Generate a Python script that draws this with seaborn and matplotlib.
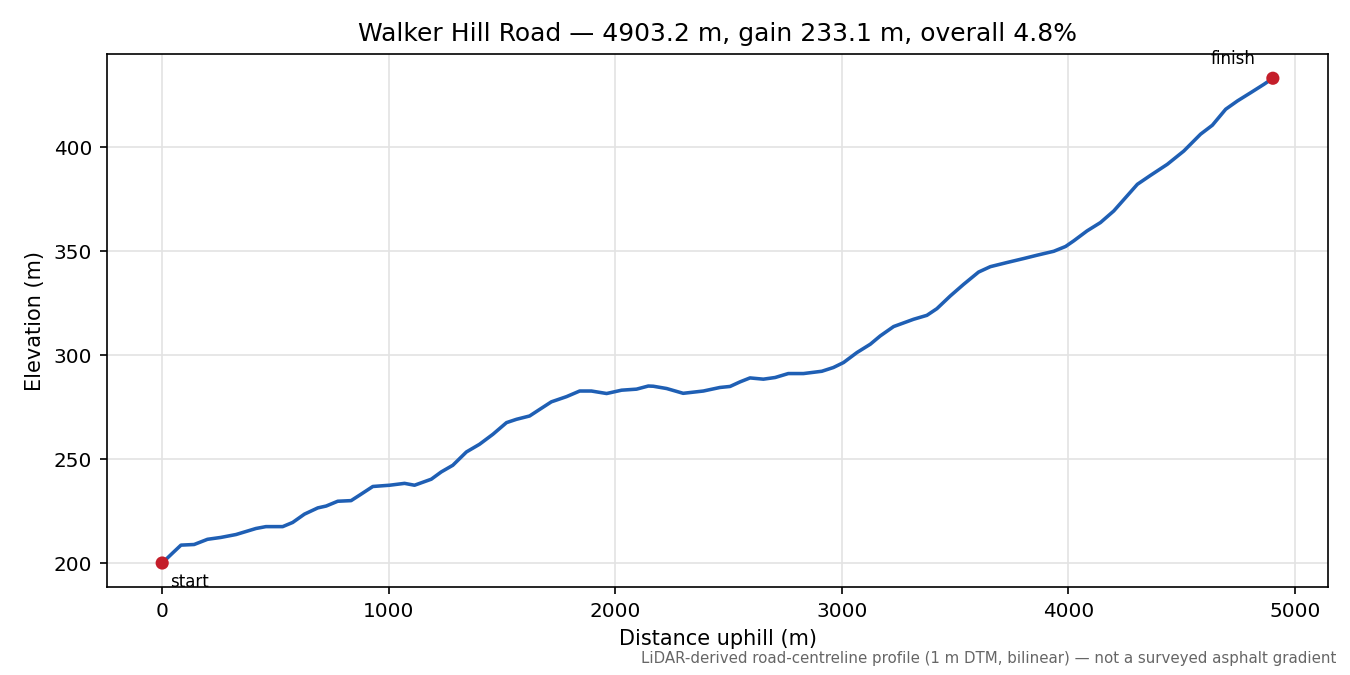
import matplotlib
matplotlib.use("Agg")
import matplotlib.pyplot as plt
import pandas as pd
import seaborn as sns

# profile
distance = [0, 46, 83, 141, 200, 259, 326, 414, 458, 532, 576, 628, 687, 724,
            775, 834, 871, 930, 1004, 1070, 1114, 1188, 1232, 1283, 1343, 1401,
            1460, 1520, 1564, 1622, 1667, 1718, 1785, 1843, 1895, 1962, 2028,
            2094, 2146, 2168, 2227, 2300, 2389, 2462, 2507, 2551, 2595, 2654,
            2706, 2764, 2831, 2912, 2963, 3008, 3067, 3126, 3170, 3229, 3317,
            3376, 3420, 3479, 3538, 3604, 3656, 3730, 3803, 3862, 3936, 3988,
            4024, 4083, 4142, 4201, 4253, 4305, 4363, 4437, 4510, 4584, 4636,
            4695, 4747, 4806, 4864, 4903.2]
elevation = [200.1, 204.9, 208.7, 209.0, 211.5, 212.4, 213.8, 216.7, 217.6,
             217.6, 219.6, 223.6, 226.6, 227.5, 229.8, 230.1, 232.7, 236.9,
             237.5, 238.4, 237.5, 240.4, 243.9, 247.1, 253.5, 257.2, 262.0,
             267.6, 269.2, 270.8, 274.0, 277.6, 280.1, 282.8, 282.8, 281.6,
             283.2, 283.7, 285.2, 285.1, 284.0, 281.7, 282.8, 284.5, 285.0,
             287.2, 289.1, 288.5, 289.3, 291.2, 291.2, 292.3, 294.1, 296.5,
             301.3, 305.3, 309.3, 313.8, 317.3, 319.2, 322.4, 328.5, 334.1,
             340.0, 342.6, 344.6, 346.5, 348.1, 350.0, 352.3, 355.0, 359.8,
             363.8, 369.4, 375.8, 382.2, 386.5, 391.8, 398.2, 406.3, 410.6,
             418.3, 422.3, 426.3, 430.3, 433.2]

df = pd.DataFrame({"Distance uphill (m)": distance, "Elevation (m)": elevation})

sns.set_style("ticks", {
    "axes.grid": True,
    "grid.color": "#e3e3e3",
    "axes.edgecolor": "black",
    "text.color": "black",
    "axes.labelcolor": "black",
    "xtick.color": "black",
    "ytick.color": "black",
})
plt.rcParams["font.family"] = ["DejaVu Sans"]

fig, ax = plt.subplots(figsize=(9, 4.5), dpi=150)
sns.lineplot(data=df, x="Distance uphill (m)", y="Elevation (m)", ax=ax,
             color="#1f5fb4", linewidth=1.7, solid_joinstyle="round")

ends = df.iloc[[0, -1]]
sns.scatterplot(data=ends, x="Distance uphill (m)", y="Elevation (m)", ax=ax,
                color="#c41e2a", s=40, edgecolor="none", zorder=5)
ax.annotate("start", (distance[0], elevation[0]), xytext=(4, -9),
            textcoords="offset points", fontsize=8, ha="left", va="center")
ax.annotate("finish", (distance[-1], elevation[-1]), xytext=(-19, 9),
            textcoords="offset points", fontsize=8, ha="center", va="center")

ax.set_title("Walker Hill Road — 4903.2 m, gain 233.1 m, overall 4.8%", fontsize=12)
ax.tick_params(labelsize=9.6)
ax.xaxis.label.set_size(10)
ax.yaxis.label.set_size(10)
fig.text(0.99, 0.013, "LiDAR-derived road-centreline profile (1 m DTM, bilinear) — not a surveyed asphalt gradient",
         ha="right", va="bottom", fontsize=7.2, color="#666666")

fig.subplots_adjust(left=0.079, right=0.984, top=0.92, bottom=0.13)
fig.savefig("out.png")
